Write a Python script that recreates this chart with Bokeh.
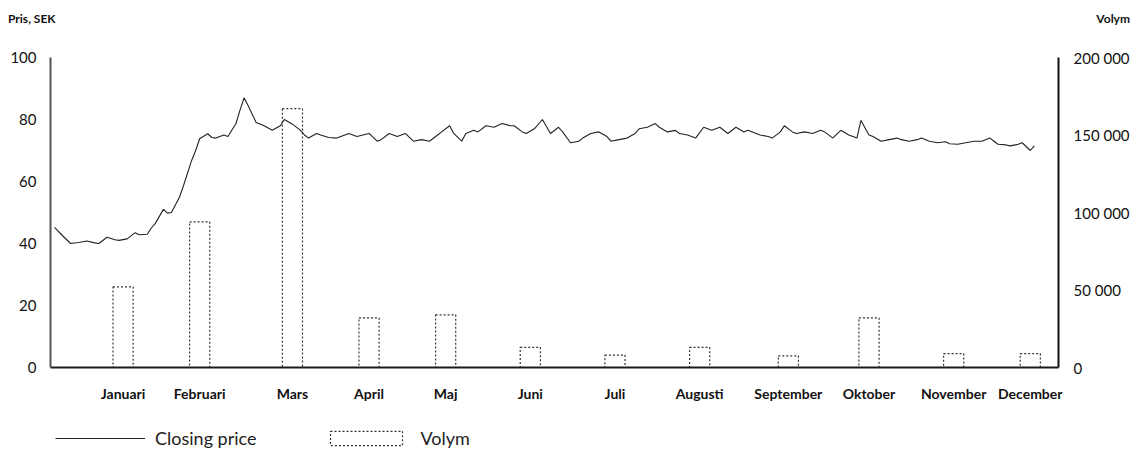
from bokeh.plotting import figure
from bokeh.models import Range1d, LinearAxis, FixedTicker, Legend, LegendItem, Div
from bokeh.layouts import column
from bokeh.embed import file_html
from bokeh.resources import INLINE

# ---------------- data ----------------
months = ["Januari", "Februari", "Mars", "April", "Maj", "Juni", "Juli",
          "Augusti", "September", "Oktober", "November", "December"]
month_pos = [18, 37, 60, 79, 98, 119, 140, 161, 183, 203, 224, 243]   # trading day
volume = [52000, 94000, 167000, 32000, 34000, 13000, 8000, 13000, 7500, 32000, 9000, 9000]

price_day = [1, 3, 5, 7, 9, 11, 12, 14, 16, 17, 19, 21, 22, 24, 25, 26, 28, 29, 30, 32,
             33, 35, 36, 37, 39, 40, 41, 43, 44, 46, 47, 48, 49, 51, 53, 55, 57, 58, 60, 62,
             63, 64, 66, 67, 69, 71, 73, 74, 76, 79, 81, 82, 84, 86, 88, 90, 92, 94, 96, 97,
             99, 100, 102, 103, 105, 106, 108, 110, 112, 114, 115, 117, 118, 120, 122, 124, 126, 127, 129, 131,
             132, 134, 136, 138, 139, 141, 143, 145, 146, 148, 150, 151, 153, 155, 156, 158, 160, 162, 164, 166,
             168, 170, 172, 173, 175, 176, 178, 179, 181, 182, 184, 185, 187, 189, 191, 192, 194, 196, 198, 200,
             201, 203, 204, 206, 208, 210, 211, 213, 215, 216, 218, 220, 222, 223, 225, 227, 229, 231, 233, 234,
             235, 237, 238, 240, 241, 243, 244]
price = [45.2, 42.5, 40.0, 40.3, 40.8, 40.2, 40.0, 42.0, 41.2, 41.0, 41.5, 43.5, 42.8, 43.0, 45.0, 46.5, 51.0, 49.8, 50.0, 55.0,
         58.7, 66.8, 70.0, 73.8, 75.4, 74.2, 74.0, 75.0, 74.5, 78.7, 83.0, 87.0, 84.5, 79.0, 78.0, 76.5, 78.0, 80.0, 78.5, 76.5,
         75.0, 74.0, 75.5, 75.0, 74.2, 74.0, 75.0, 75.5, 74.5, 75.5, 73.0, 73.5, 75.5, 74.5, 75.5, 73.0, 73.5, 73.0, 75.0, 76.0,
         78.0, 75.5, 73.0, 75.5, 76.5, 76.0, 78.0, 77.5, 78.7, 78.0, 78.0, 76.0, 75.5, 77.0, 80.0, 75.5, 77.5, 76.0, 72.5, 73.0,
         74.0, 75.5, 76.0, 74.5, 73.0, 73.5, 74.0, 75.5, 77.0, 77.5, 78.7, 77.5, 76.0, 76.5, 75.5, 75.0, 74.0, 77.5, 76.5, 77.5,
         75.5, 77.5, 76.0, 76.5, 75.5, 75.0, 74.5, 74.0, 76.0, 78.0, 76.0, 75.5, 76.0, 75.5, 76.5, 76.0, 74.0, 76.5, 75.0, 74.0,
         79.7, 75.0, 74.5, 73.0, 73.5, 74.0, 73.5, 73.0, 73.5, 74.0, 73.0, 72.5, 72.8, 72.2, 72.0, 72.5, 73.0, 73.0, 74.0, 73.0,
         72.0, 71.8, 71.5, 72.0, 72.5, 70.0, 71.5]

price_ticks = [0, 20, 40, 60, 80, 100]
vol_ticks = [0, 50000, 100000, 150000, 200000]
vol_tick_labels = ["0", "50 000", "100 000", "150 000", "200 000"]
series_names = ["Closing price", "Volym"]

FONT = "Lato"
LINE_STYLE = dict(line_color="#222222", line_width=1.1)
BAR_STYLE = dict(fill_color=None, line_color="#333333", line_width=1.2, line_dash="2 2")

# ---------------- header (axis titles) ----------------
header = Div(
    text=('<div style="position:relative;width:1132px;height:36px;font-family:Lato,sans-serif;'
          'font-weight:bold;font-size:12px;color:#111;">'
          '<span style="position:absolute;left:8px;top:10px;">Pris, SEK</span>'
          '<span style="position:absolute;right:2px;top:10px;">Volym</span></div>'),
    width=1132, height=36, margin=0)

# ---------------- main figure ----------------
p = figure(frame_width=1008, frame_height=310, title=None,
           min_border_left=50, min_border_right=74, min_border_top=21, min_border_bottom=52,
           x_range=Range1d(0, 250), y_range=Range1d(0, 100),
           output_backend="svg", toolbar_location=None, x_axis_location="below", margin=0)
p.outline_line_color = None
p.grid.visible = False
p.extra_y_ranges = {"vol": Range1d(0, 200000)}

bars = p.vbar(x=month_pos, top=volume, width=5, bottom=0, y_range_name="vol", **BAR_STYLE)
line = p.line(price_day, price, **LINE_STYLE)

# x axis
xa = p.xaxis[0]
xa.ticker = FixedTicker(ticks=month_pos)
xa.major_label_overrides = {m: n for m, n in zip(month_pos, months)}
xa.major_tick_line_color = None
xa.minor_tick_line_color = None
xa.major_tick_out = 0
xa.major_label_standoff = 17
xa.axis_line_color = "#1a1a1a"
xa.axis_line_width = 2
xa.major_label_text_font = FONT
xa.major_label_text_font_style = "bold"
xa.major_label_text_font_size = "14px"
xa.major_label_text_color = "#111111"

# left axis
ya = p.yaxis[0]
ya.ticker = FixedTicker(ticks=price_ticks)
ya.major_tick_line_color = None
ya.minor_tick_line_color = None
ya.major_tick_out = 0
ya.major_label_standoff = 14
ya.axis_line_color = "#555555"
ya.axis_line_width = 2
ya.major_label_text_font = FONT
ya.major_label_text_font_size = "15px"
ya.major_label_text_color = "#111111"

# right axis
ra = LinearAxis(y_range_name="vol", ticker=FixedTicker(ticks=vol_ticks),
                major_label_overrides={t: s for t, s in zip(vol_ticks, vol_tick_labels)})
ra.major_tick_line_color = None
ra.minor_tick_line_color = None
ra.major_tick_out = 0
ra.major_label_standoff = 15
ra.axis_line_color = "#111111"
ra.axis_line_width = 2
ra.major_label_text_font = FONT
ra.major_label_text_font_size = "15px"
ra.major_label_text_color = "#111111"
p.add_layout(ra, "right")

# ---------------- legend strip ----------------
# same series with the same styles, kept invisible so only the legend shows
lg = figure(width=1132, height=32, min_border=0, title=None,
            x_range=Range1d(0, 250), y_range=Range1d(0, 100),
            x_axis_location=None, y_axis_location=None,
            output_backend="svg", toolbar_location=None, margin=0)
lg.outline_line_color = None
lg.grid.visible = False
lg_line = lg.line(price_day, price, visible=False, **LINE_STYLE)
lg_bar = lg.vbar(x=month_pos, top=volume, width=5, bottom=0, visible=False, **BAR_STYLE)
legend = Legend(items=[LegendItem(label=series_names[0], renderers=[lg_line]),
                       LegendItem(label=series_names[1], renderers=[lg_bar])],
                orientation="horizontal", location=(5, 2),
                border_line_color=None, background_fill_alpha=0,
                padding=0, margin=0, spacing=64,
                glyph_width=90, glyph_height=18, label_standoff=10,
                label_text_font=FONT, label_text_font_size="18px",
                label_text_color="#222222")
lg.add_layout(legend, "center")

layout = column(header, p, lg, spacing=0)
open("out.html", "w").write(file_html(layout, INLINE))
